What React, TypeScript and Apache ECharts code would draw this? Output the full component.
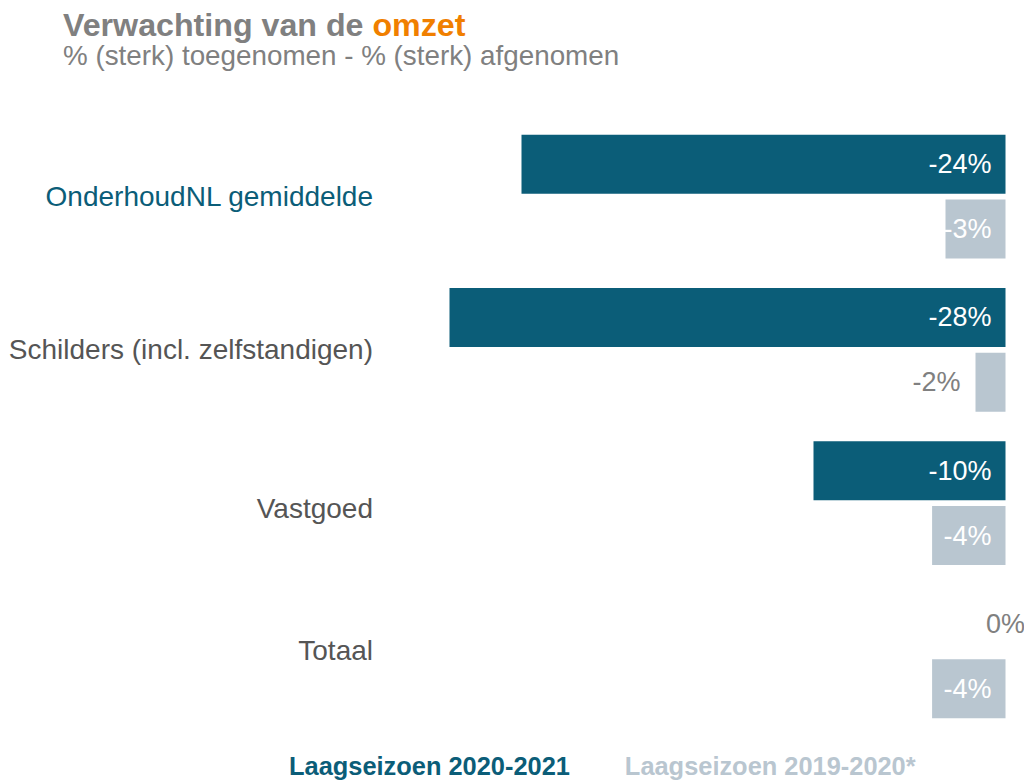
import React, { useEffect, useRef } from "react";
import * as echarts from "echarts";

const categories = [
  "OnderhoudNL gemiddelde",
  "Schilders (incl. zelfstandigen)",
  "Vastgoed",
  "Totaal",
];
const seriesNames = ["Laagseizoen 2020-2021", "Laagseizoen 2019-2020*"];
const season2021 = [-24.2, -27.8, -9.6, 0];
const season1920 = [-3.0, -1.5, -3.67, -3.67];

const DARK = "#0b5d78";
const LIGHT = "#b9c6d0";
const GRAY = "#808080";
const FONT = "Liberation Sans, Arial, sans-serif";

const fmt = (v: number) =>
  v === 0 ? "0%" : (v < 0 ? "-" : "") + Math.round(Math.abs(v)) + "%";

export default function App() {
  const ref = useRef<HTMLDivElement>(null);
  useEffect(() => {
    if (!ref.current) return;
    const chart = echarts.init(ref.current, undefined, { renderer: "svg" });
    const baseLabel = {
      show: true,
      position: "insideRight",
      distance: 14,
      color: "#ffffff",
      fontSize: 27,
      fontFamily: FONT,
      formatter: (p: any) => fmt(p.value),
    };
    chart.setOption({
      animation: false,
      backgroundColor: "#ffffff",
      textStyle: { fontFamily: FONT },
      title: [
        {
          left: 58,
          top: 4.5,
          text: "{a|Verwachting van de }{b|omzet}",
          textStyle: {
            rich: {
              a: { fontSize: 32.2, lineHeight: 30, fontWeight: "bold", color: GRAY, fontFamily: FONT },
              b: { fontSize: 32.2, lineHeight: 30, fontWeight: "bold", color: "#f07f00", fontFamily: FONT },
            },
          },
        },
        {
          left: 58,
          top: 38,
          text: "% (sterk) toegenomen - % (sterk) afgenomen",
          textStyle: { fontSize: 27.8, lineHeight: 24, fontWeight: "normal", color: GRAY, fontFamily: FONT },
        },
      ],
      legend: {
        left: 279,
        top: 748,
        itemWidth: 0,
        itemHeight: 0,
        itemGap: 50,
        selectedMode: false,
        data: [
          { name: seriesNames[0], textStyle: { color: DARK } },
          { name: seriesNames[1], textStyle: { color: LIGHT } },
        ],
        textStyle: { fontSize: 25.4, fontWeight: "bold", fontFamily: FONT },
      },
      grid: { left: 385.5, right: 18.5, top: 120, bottom: 48, containLabel: false },
      xAxis: {
        type: "value",
        min: -31,
        max: 0,
        show: false,
      },
      yAxis: {
        type: "category",
        data: categories,
        inverse: true,
        axisLine: { show: false },
        axisTick: { show: false },
        splitLine: { show: false },
        axisLabel: {
          margin: 12.5,
          formatter: (v: string, i: number) =>
            i === 0 ? `{t|${v}}` : i === 2 ? `{d|${v}}` : i === 3 ? `{u|${v}}` : `{g|${v}}`,
          rich: {
            t: { color: DARK, fontSize: 28, fontFamily: FONT },
            g: { color: "#555555", fontSize: 28, fontFamily: FONT },
            d: { color: "#555555", fontSize: 28, fontFamily: FONT, padding: [10, 0, 0, 0] },
            u: { color: "#555555", fontSize: 28, fontFamily: FONT, padding: [0, 0, 12, 0] },
          },
        },
      },
      series: [
        {
          name: seriesNames[0],
          type: "bar",
          barWidth: 59,
          barGap: "10%",
          itemStyle: { color: DARK },
          label: baseLabel,
          data: season2021.map((v) =>
            v === 0
              ? { value: v, label: { position: "inside", color: GRAY } }
              : { value: v }
          ),
        },
        {
          name: seriesNames[1],
          type: "bar",
          barWidth: 59,
          barGap: "10%",
          itemStyle: { color: LIGHT },
          label: baseLabel,
          data: season1920.map((v) =>
            Math.abs(v) < 2
              ? { value: v, label: { position: "left", distance: 15, color: GRAY } }
              : { value: v }
          ),
        },
      ],
    });
    return () => chart.dispose();
  }, []);
  return <div ref={ref} style={{ width: 1024, height: 781, position: "absolute", left: 0, top: 0 }} />;
}
